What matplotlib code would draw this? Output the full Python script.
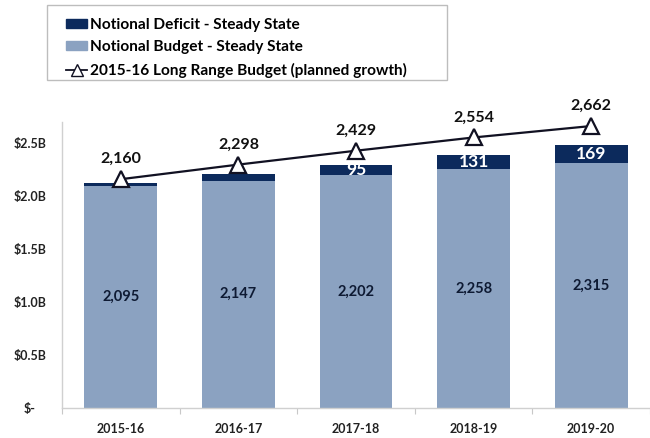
import numpy as np
import matplotlib
matplotlib.use('Agg')
import matplotlib.pyplot as plt
from matplotlib.lines import Line2D
from matplotlib.patches import Patch, Rectangle

plt.rcParams['font.family'] = ['Lato', 'DejaVu Sans']
plt.rcParams['font.weight'] = 'bold'

# values in $ millions
years = ['2015-16', '2016-17', '2017-18', '2018-19', '2019-20']
budget = [2095, 2147, 2202, 2258, 2315]
deficit = [30, 65, 95, 131, 169]
deficit_labels = ['', '', '95', '131', '169']
long_range = [2160, 2298, 2429, 2554, 2662]
yticks = [0, 500, 1000, 1500, 2000, 2500]
ytick_labels = ['$-', '$0.5B', '$1.0B', '$1.5B', '$2.0B', '$2.5B']

light = '#8ba2c1'
dark = '#0c2a5c'
W, H = 650, 438

fig = plt.figure(figsize=(W / 100, H / 100), dpi=100)
ax = fig.add_axes([62 / W, 1 - 408 / H, (W - 62) / W, (408 - 122) / H])

x = np.arange(len(years))
ax.bar(x, budget, width=0.62, color=light, zorder=2)
ax.bar(x, deficit, width=0.62, bottom=budget, color=dark, zorder=2)
ax.plot(x, long_range, color='#111122', lw=1.6, marker='^', ms=11,
        mfc='white', mec='#111122', mew=1.6, zorder=4, clip_on=False)

for i in range(len(years)):
    ax.text(x[i], budget[i] / 2, f'{budget[i]:,}', ha='center', va='center',
            fontsize=10.5, color='#0e1a33', fontweight='bold', zorder=5)
    if deficit_labels[i]:
        ax.text(x[i], budget[i] + deficit[i] / 2, deficit_labels[i], ha='center',
                va='center', fontsize=12.5, color='white', fontweight='bold', zorder=5)
    ax.annotate(f'{long_range[i]:,}', (x[i], long_range[i]), xytext=(0, 14.5),
                textcoords='offset points', ha='center', va='center', fontsize=11.5,
                color='#111111', fontweight='bold', annotation_clip=False, zorder=5)

ax.set_xlim(-0.5, 4.4)
ax.set_ylim(0, 2700)
ax.set_yticks(yticks)
ax.set_yticklabels(ytick_labels)
ax.set_xticks(x)
ax.set_xticklabels(years)
ax.set_xticks(np.arange(-0.5, 5, 1), minor=True)
ax.tick_params(axis='x', which='major', length=0, pad=11, labelsize=9, labelcolor='#222222')
ax.tick_params(axis='x', which='minor', length=4, color='#c8c8c8', width=0.8)
ax.tick_params(axis='y', length=0, pad=23, labelsize=9, labelcolor='#222222')
for lbl in ax.get_yticklabels():
    lbl.set_horizontalalignment('center')
for s in ['top', 'right']:
    ax.spines[s].set_visible(False)
for s in ['left', 'bottom']:
    ax.spines[s].set_color('#d0d0d0')
    ax.spines[s].set_linewidth(1.0)

handles = [
    Patch(facecolor=dark, edgecolor=dark),
    Patch(facecolor=light, edgecolor=light),
    Line2D([0], [0], color='#111122', lw=1.3, marker='^', ms=8, mfc='white', mec='#111122'),
]
labels = ['Notional Deficit - Steady State', 'Notional Budget - Steady State',
          '2015-16 Long Range Budget (planned growth)']
fig.legend(handles, labels, loc='upper left', bbox_to_anchor=(58 / W, 1 - 10 / H),
           frameon=False, borderpad=0, handlelength=1.4,
           handleheight=0.5, handletextpad=0.15, labelspacing=0.55,
           prop={'weight': 'bold', 'size': 11.1})
fig.patches.append(Rectangle((47 / W, 1 - 80 / H), 400 / W, 75 / H, transform=fig.transFigure,
                             facecolor='none', edgecolor='#bdbdbd', lw=1.0))

fig.savefig('out.png', dpi=100)
